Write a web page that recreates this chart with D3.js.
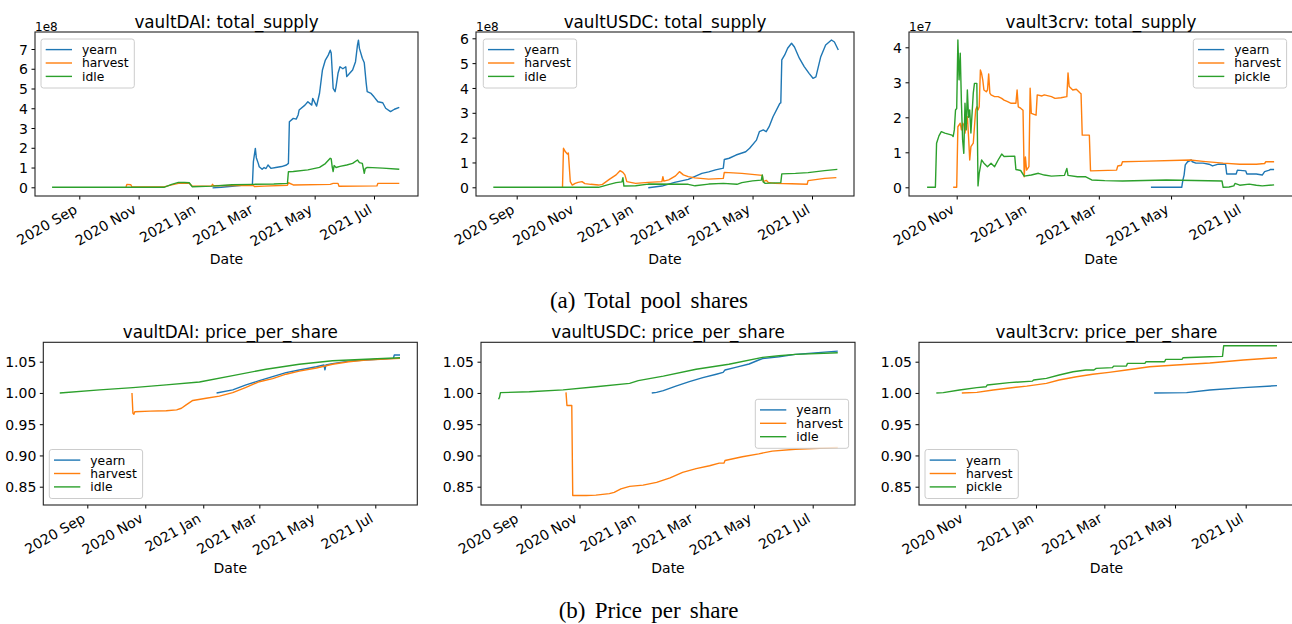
<!DOCTYPE html>
<html><head><meta charset="utf-8">
<script src="https://cdn.jsdelivr.net/npm/d3@7"></script>
<style>
body{margin:0;background:#fff}
svg{display:block}
text{font-family:"DejaVu Sans",sans-serif;fill:#000}
</style>
</head><body>
<svg id="c" width="1292" height="624"></svg>
<script>
// ---------------- DATA ----------------
// total_supply values are in units of the axis offset (1e8 / 1e7)
const daiSupplyYearn = [["2021-01-16",-0.03],["2021-01-25",0.0],["2021-02-05",0.05],["2021-02-15",0.1],["2021-02-26",0.15],["2021-02-27",1.3],["2021-03-01",1.97],["2021-03-02",1.5],["2021-03-04",1.21],["2021-03-05",1.04],["2021-03-08",0.91],["2021-03-10",1.0],["2021-03-12",0.95],["2021-03-14",1.13],["2021-03-17",0.96],["2021-03-22",1.0],["2021-03-28",1.05],["2021-04-02",1.13],["2021-04-04",1.21],["2021-04-05",3.32],["2021-04-09",3.49],["2021-04-12",3.45],["2021-04-14",3.66],["2021-04-15",3.91],["2021-04-21",4.16],["2021-04-24",4.33],["2021-04-28",4.16],["2021-04-29",4.5],["2021-05-03",4.11],["2021-05-04",4.33],["2021-05-06",4.76],["2021-05-09",5.94],["2021-05-12",6.44],["2021-05-15",6.69],["2021-05-17",6.94],["2021-05-18",6.8],["2021-05-20",5.01],["2021-05-22",4.84],["2021-05-23",5.1],["2021-05-25",5.77],["2021-05-27",6.1],["2021-05-30",6.0],["2021-06-02",6.1],["2021-06-03",5.6],["2021-06-06",5.77],["2021-06-09",5.94],["2021-06-12",6.36],["2021-06-14",7.2],["2021-06-15",7.45],["2021-06-16",7.03],["2021-06-19",6.53],["2021-06-21",6.3],["2021-06-23",5.26],["2021-06-24",4.84],["2021-06-28",4.75],["2021-07-01",4.58],["2021-07-05",4.33],["2021-07-10",4.28],["2021-07-13",4.0],["2021-07-18",3.83],["2021-07-22",3.95],["2021-07-27",4.05]];
const daiSupplyHarvest = [["2020-10-19",0.02],["2020-10-20",0.15],["2020-10-24",0.13],["2020-10-25",0.03],["2020-11-27",0.02],["2020-12-05",0.12],["2020-12-12",0.2],["2020-12-23",0.2],["2020-12-26",0.06],["2021-01-15",0.07],["2021-01-16",0.15],["2021-01-17",0.08],["2021-02-27",0.1],["2021-02-28",0.04],["2021-03-10",0.06],["2021-04-03",0.1],["2021-04-04",0.23],["2021-04-09",0.12],["2021-05-17",0.15],["2021-05-20",0.2],["2021-05-25",0.2],["2021-05-26",0.05],["2021-07-04",0.07],["2021-07-05",0.2],["2021-07-27",0.2]];
const daiSupplyIdle = [["2020-08-04",0],["2020-11-27",0.0],["2020-12-05",0.15],["2020-12-12",0.25],["2020-12-18",0.24],["2020-12-23",0.23],["2020-12-26",0.03],["2021-01-16",0.06],["2021-02-05",0.13],["2021-02-27",0.15],["2021-03-20",0.17],["2021-04-03",0.2],["2021-04-04",0.79],["2021-04-09",0.8],["2021-04-24",0.88],["2021-05-06",1.01],["2021-05-12",1.2],["2021-05-17",1.47],["2021-05-18",1.44],["2021-05-19",1.04],["2021-05-20",0.8],["2021-05-21",1.1],["2021-05-23",1.0],["2021-05-27",1.06],["2021-06-03",1.13],["2021-06-09",1.21],["2021-06-14",1.38],["2021-06-16",1.25],["2021-06-19",1.21],["2021-06-21",0.71],["2021-06-22",0.95],["2021-06-24",1.01],["2021-07-10",0.97],["2021-07-27",0.91]];

const usdcSupplyYearn = [["2021-01-14",-0.02],["2021-01-28",0.05],["2021-02-10",0.2],["2021-02-24",0.32],["2021-03-10",0.56],["2021-03-17",0.62],["2021-03-24",0.7],["2021-03-31",0.76],["2021-04-01",0.77],["2021-04-02",1.12],["2021-04-07",1.17],["2021-04-14",1.3],["2021-04-24",1.43],["2021-04-28",1.57],["2021-05-05",1.9],["2021-05-08",2.24],["2021-05-12",2.31],["2021-05-15",2.24],["2021-05-18",2.44],["2021-05-22",2.84],["2021-05-29",3.38],["2021-05-30",3.4],["2021-05-31",5.13],["2021-06-03",5.33],["2021-06-06",5.6],["2021-06-10",5.8],["2021-06-13",5.65],["2021-06-18",5.2],["2021-06-23",4.86],["2021-06-28",4.59],["2021-07-02",4.39],["2021-07-05",4.45],["2021-07-10",5.26],["2021-07-15",5.73],["2021-07-21",5.93],["2021-07-24",5.85],["2021-07-28",5.53]];
const usdcSupplyHarvest = [["2020-10-18",0],["2020-10-19",1.57],["2020-10-21",1.43],["2020-10-23",1.34],["2020-10-24",1.38],["2020-10-26",0.23],["2020-10-28",0.09],["2020-10-31",0.16],["2020-11-03",0.2],["2020-11-07",0.23],["2020-11-10",0.15],["2020-11-16",0.12],["2020-11-24",0.09],["2020-11-28",0.12],["2020-12-05",0.32],["2020-12-12",0.5],["2020-12-16",0.67],["2020-12-19",0.6],["2020-12-21",0.5],["2020-12-23",0.23],["2021-01-01",0.16],["2021-01-14",0.2],["2021-01-28",0.23],["2021-01-29",0.43],["2021-01-30",0.25],["2021-02-04",0.3],["2021-02-11",0.46],["2021-02-15",0.63],["2021-02-19",0.5],["2021-02-24",0.43],["2021-03-03",0.38],["2021-03-17",0.33],["2021-04-01",0.36],["2021-04-02",0.6],["2021-04-20",0.56],["2021-05-11",0.48],["2021-05-12",0.23],["2021-05-15",0.28],["2021-05-17",0.2],["2021-05-24",0.16],["2021-06-10",0.14],["2021-06-26",0.12],["2021-06-27",0.27],["2021-07-14",0.36],["2021-07-26",0.39]];
const usdcSupplyIdle = [["2020-08-08",0],["2020-11-24",0],["2020-12-05",0.12],["2020-12-12",0.19],["2020-12-18",0.22],["2020-12-19",0.39],["2020-12-20",0.05],["2021-01-01",0.06],["2021-01-14",0.13],["2021-02-24",0.12],["2021-03-03",0.06],["2021-03-17",0.13],["2021-04-01",0.16],["2021-04-15",0.12],["2021-04-20",0.19],["2021-05-01",0.26],["2021-05-10",0.29],["2021-05-11",0.5],["2021-05-12",0.22],["2021-05-14",0.16],["2021-05-30",0.19],["2021-05-31",0.54],["2021-06-14",0.56],["2021-06-27",0.59],["2021-07-14",0.67],["2021-07-27",0.72]];

const crvSupplyYearn = [["2021-04-14",0],["2021-05-10",0],["2021-05-11",0.21],["2021-05-12",0.35],["2021-05-13",0.64],["2021-05-15",0.73],["2021-05-18",0.78],["2021-05-19",0.73],["2021-05-22",0.69],["2021-05-28",0.69],["2021-06-02",0.66],["2021-06-05",0.61],["2021-06-10",0.66],["2021-06-16",0.66],["2021-06-17",0.38],["2021-06-25",0.38],["2021-06-26",0.49],["2021-07-03",0.47],["2021-07-04",0.38],["2021-07-12",0.38],["2021-07-17",0.35],["2021-07-19",0.45],["2021-07-23",0.49],["2021-07-24",0.51],["2021-07-27",0.51]];
const crvSupplyHarvest = [["2020-10-29",0],["2020-11-01",0],["2020-11-02",1.73],["2020-11-04",1.83],["2020-11-05",1.64],["2020-11-06",1.83],["2020-11-07",1.78],["2020-11-08",1.55],["2020-11-10",2.02],["2020-11-11",1.45],["2020-11-12",0.78],["2020-11-13",1.16],["2020-11-15",1.26],["2020-11-16",1.73],["2020-11-17",2.21],["2020-11-18",2.3],["2020-11-19",2.21],["2020-11-20",2.3],["2020-11-21",3.35],["2020-11-22",3.25],["2020-11-23",3.07],["2020-11-24",2.78],["2020-11-26",2.73],["2020-11-27",2.78],["2020-11-28",3.24],["2020-11-29",2.69],["2020-11-30",2.64],["2020-12-03",2.59],["2020-12-06",2.59],["2020-12-09",2.54],["2020-12-11",2.49],["2020-12-14",2.45],["2020-12-17",2.4],["2020-12-21",2.4],["2020-12-22",2.78],["2020-12-23",2.3],["2020-12-25",2.26],["2020-12-27",2.2],["2020-12-28",0.3],["2020-12-29",0.87],["2020-12-30",0.49],["2021-01-01",0.59],["2021-01-02",2.83],["2021-01-03",2.11],["2021-01-07",2.06],["2021-01-08",2.64],["2021-01-12",2.61],["2021-01-14",2.64],["2021-01-20",2.59],["2021-01-23",2.54],["2021-01-28",2.56],["2021-02-02",2.59],["2021-02-03",3.27],["2021-02-04",2.88],["2021-02-07",2.78],["2021-02-10",2.8],["2021-02-13",2.7],["2021-02-14",2.67],["2021-02-15",1.49],["2021-02-21",1.49],["2021-02-22",0.47],["2021-03-16",0.49],["2021-03-17",0.61],["2021-03-20",0.63],["2021-03-21",0.73],["2021-04-04",0.74],["2021-05-17",0.78],["2021-05-28",0.74],["2021-06-14",0.69],["2021-06-28",0.66],["2021-07-12",0.66],["2021-07-19",0.68],["2021-07-20",0.73],["2021-07-27",0.73]];
const crvSupplyPickle = [["2020-10-07",0],["2020-10-14",0],["2020-10-15",1.26],["2020-10-17",1.47],["2020-10-19",1.59],["2020-10-22",1.55],["2020-10-25",1.52],["2020-10-28",1.49],["2020-10-29",1.45],["2020-10-30",1.64],["2020-10-31",2.21],["2020-11-01",2.25],["2020-11-02",4.21],["2020-11-03",3.07],["2020-11-04",3.83],["2020-11-05",2.4],["2020-11-06",1.35],["2020-11-07",0.97],["2020-11-08",2.4],["2020-11-09",1.64],["2020-11-10",2.78],["2020-11-11",2.0],["2020-11-12",2.21],["2020-11-13",1.55],["2020-11-15",2.69],["2020-11-16",2.97],["2020-11-18",2.97],["2020-11-19",0.04],["2020-11-20",0.4],["2020-11-22",0.78],["2020-11-24",0.69],["2020-11-27",0.59],["2020-11-30",0.69],["2020-12-03",0.59],["2020-12-06",0.78],["2020-12-09",0.95],["2020-12-11",0.88],["2020-12-20",0.89],["2020-12-21",0.51],["2020-12-25",0.48],["2020-12-28",0.32],["2021-01-03",0.35],["2021-01-09",0.4],["2021-01-14",0.35],["2021-01-20",0.32],["2021-01-31",0.34],["2021-02-02",0.54],["2021-02-03",0.34],["2021-02-11",0.3],["2021-02-18",0.3],["2021-02-23",0.21],["2021-03-06",0.19],["2021-03-21",0.18],["2021-04-27",0.21],["2021-06-13",0.18],["2021-06-14",0.0],["2021-06-19",0.01],["2021-06-23",0.04],["2021-06-24",0.11],["2021-06-28",0.06],["2021-07-06",0.09],["2021-07-12",0.06],["2021-07-17",0.04],["2021-07-27",0.07]];

const daiPriceYearn = [["2021-01-15",1.0],["2021-02-01",1.005],["2021-02-15",1.0128],["2021-03-01",1.0197],["2021-03-15",1.026],["2021-03-29",1.0325],["2021-04-12",1.0367],["2021-04-30",1.042],["2021-05-08",1.0447],["2021-05-09",1.037],["2021-05-10",1.0447],["2021-05-17",1.047],["2021-06-03",1.051],["2021-06-21",1.0527],["2021-07-20",1.0553],["2021-07-21",1.0607],["2021-07-27",1.0607]];
const daiPriceHarvest = [["2020-10-18",1.0],["2020-10-19",0.9675],["2020-10-20",0.966],["2020-10-21",0.970],["2020-11-06",0.971],["2020-11-23",0.9715],["2020-12-04",0.973],["2020-12-09",0.9755],["2020-12-14",0.981],["2020-12-21",0.988],["2021-01-04",0.9915],["2021-01-18",0.995],["2021-02-01",1.0005],["2021-02-15",1.009],["2021-03-01",1.018],["2021-03-15",1.023],["2021-03-29",1.030],["2021-04-12",1.035],["2021-04-30",1.040],["2021-05-17",1.046],["2021-06-03",1.050],["2021-06-21",1.0527],["2021-07-27",1.0553]];
const daiPriceIdle = [["2020-08-03",1.0],["2020-09-14",1.005],["2020-10-19",1.0085],["2020-11-23",1.013],["2020-12-28",1.0176],["2021-02-01",1.0277],["2021-03-08",1.038],["2021-04-12",1.046],["2021-05-17",1.0516],["2021-06-21",1.054],["2021-07-27",1.0564]];

const usdcPriceYearn = [["2021-01-15",1.0],["2021-01-20",1.001],["2021-01-27",1.0037],["2021-02-09",1.011],["2021-02-23",1.018],["2021-03-09",1.0245],["2021-03-23",1.030],["2021-03-30",1.033],["2021-04-01",1.0367],["2021-04-12",1.041],["2021-04-26",1.0463],["2021-05-06",1.0527],["2021-05-10",1.055],["2021-05-27",1.058],["2021-06-13",1.0617],["2021-07-27",1.067]];
const usdcPriceHarvest = [["2020-10-18",1.001],["2020-10-19",0.98],["2020-10-24",0.98],["2020-10-25",0.836],["2020-11-08",0.836],["2020-11-18",0.8365],["2020-12-02",0.839],["2020-12-07",0.841],["2020-12-14",0.8465],["2020-12-23",0.8505],["2021-01-06",0.8526],["2021-01-20",0.857],["2021-02-03",0.864],["2021-02-16",0.873],["2021-03-02",0.879],["2021-03-16",0.8835],["2021-03-26",0.8877],["2021-03-31",0.888],["2021-04-01",0.892],["2021-04-19",0.898],["2021-05-06",0.9026],["2021-05-20",0.907],["2021-06-13",0.910],["2021-07-27",0.9128]];
const usdcPriceIdle = [["2020-08-09",0.990],["2020-08-10",0.993],["2020-08-11",1.0005],["2020-09-10",1.002],["2020-10-15",1.005],["2020-11-18",1.010],["2020-12-23",1.0154],["2021-01-01",1.0197],["2021-01-27",1.027],["2021-03-02",1.038],["2021-04-05",1.046],["2021-05-10",1.057],["2021-05-27",1.0596],["2021-06-13",1.0617],["2021-07-27",1.0644]];

const crvPriceYearn = [["2021-04-13",1.0],["2021-05-11",1.0005],["2021-05-31",1.0048],["2021-06-29",1.0085],["2021-07-28",1.0117]];
const crvPriceHarvest = [["2020-10-29",1.0],["2020-11-11",1.001],["2020-11-25",1.0048],["2020-12-24",1.011],["2021-01-10",1.0154],["2021-01-21",1.0207],["2021-02-05",1.026],["2021-02-19",1.030],["2021-03-05",1.033],["2021-03-20",1.0367],["2021-04-09",1.042],["2021-05-02",1.0447],["2021-05-31",1.048],["2021-06-29",1.0527],["2021-07-28",1.0564]];
const crvPricePickle = [["2020-10-07",1.0],["2020-10-13",1.0005],["2020-10-27",1.0048],["2020-11-11",1.0085],["2020-11-19",1.01],["2020-11-20",1.0128],["2020-12-09",1.0165],["2020-12-29",1.019],["2020-12-30",1.0207],["2021-01-10",1.0234],["2021-01-21",1.0287],["2021-02-02",1.034],["2021-02-13",1.0367],["2021-02-20",1.0367],["2021-02-22",1.0394],["2021-03-08",1.0405],["2021-03-09",1.043],["2021-03-20",1.043],["2021-03-21",1.0473],["2021-04-05",1.0473],["2021-04-06",1.05],["2021-04-22",1.05],["2021-04-23",1.0537],["2021-05-07",1.0537],["2021-05-08",1.0564],["2021-05-31",1.058],["2021-06-11",1.0585],["2021-06-12",1.0755],["2021-07-28",1.0755]];

const ticksSixMonths = ["2020-09-01","2020-11-01","2021-01-01","2021-03-01","2021-05-01","2021-07-01"];
const ticksFiveMonths = ["2020-11-01","2021-01-01","2021-03-01","2021-05-01","2021-07-01"];
const supplyTicksDai = [0,1,2,3,4,5,6,7];
const supplyTicksUsdc = [0,1,2,3,4,5,6];
const supplyTicks3crv = [0,1,2,3,4];
const priceTicks = [0.85,0.90,0.95,1.00,1.05];
const namesIdle = ["yearn","harvest","idle"];
const namesPickle = ["yearn","harvest","pickle"];
const captions = ["(a) Total pool shares","(b) Price per share"];

// ---------------- LAYOUT ----------------
const parse = d3.utcParse("%Y-%m-%d");
const colors = ["#1f77b4","#ff7f0e","#2ca02c"];
const svg = d3.select("#c");

const panels = [
  {title:"vaultDAI: total_supply", box:[35,32,418,196], xRef:[["2020-09-01",79.3],["2021-07-01",374]], yRef:[[0,187.3],[7,49]],
   xTicks:ticksSixMonths, yTicks:supplyTicksDai, yFmt:d3.format("d"), offset:"1e8",
   series:[daiSupplyYearn,daiSupplyHarvest,daiSupplyIdle], names:namesIdle, legend:[41,39]},
  {title:"vaultUSDC: total_supply", box:[476,32,854,196], xRef:[["2020-09-01",516.7],["2021-07-01",812]], yRef:[[0,187.3],[6,38.3]],
   xTicks:ticksSixMonths, yTicks:supplyTicksUsdc, yFmt:d3.format("d"), offset:"1e8",
   series:[usdcSupplyYearn,usdcSupplyHarvest,usdcSupplyIdle], names:namesIdle, legend:[483.3,39]},
  {title:"vault3crv: total_supply", box:[909,32,1293,196], xRef:[["2020-11-01",956.7],["2021-07-01",1243.3]], yRef:[[0,187.3],[4,47.3]],
   xTicks:ticksFiveMonths, yTicks:supplyTicks3crv, yFmt:d3.format("d"), offset:"1e7",
   series:[crvSupplyYearn,crvSupplyHarvest,crvSupplyPickle], names:namesPickle, legend:[1193.3,39]},
  {title:"vaultDAI: price_per_share", box:[43.3,342.3,417.3,505], xRef:[["2020-09-01",87.3],["2021-07-01",375.3]], yRef:[[1.05,361.7],[0.85,486.7]],
   xTicks:ticksSixMonths, yTicks:priceTicks, yFmt:d3.format(".2f"), offset:null,
   series:[daiPriceYearn,daiPriceHarvest,daiPriceIdle], names:namesIdle, legend:[49.3,449.5]},
  {title:"vaultUSDC: price_per_share", box:[481,342.3,855,505], xRef:[["2020-09-01",520.7],["2021-07-01",812.7]], yRef:[[1.05,361.7],[0.85,486.7]],
   xTicks:ticksSixMonths, yTicks:priceTicks, yFmt:d3.format(".2f"), offset:null,
   series:[usdcPriceYearn,usdcPriceHarvest,usdcPriceIdle], names:namesIdle, legend:[755.3,399.3]},
  {title:"vault3crv: price_per_share", box:[919,342.3,1294,505], xRef:[["2020-11-01",965.3],["2021-07-01",1245.7]], yRef:[[1.05,361.7],[0.85,486.7]],
   xTicks:ticksFiveMonths, yTicks:priceTicks, yFmt:d3.format(".2f"), offset:null,
   series:[crvPriceYearn,crvPriceHarvest,crvPricePickle], names:namesPickle, legend:[925,449.5]}
];

const monthFmt = d3.utcFormat("%Y %b");

panels.forEach((p, pi) => {
  const [L,T,R,B] = p.box;
  const tmpX = d3.scaleUtc().domain(p.xRef.map(d=>parse(d[0]))).range(p.xRef.map(d=>d[1]));
  const x = d3.scaleUtc().domain([tmpX.invert(L), tmpX.invert(R)]).range([L,R]);
  const tmpY = d3.scaleLinear().domain(p.yRef.map(d=>d[0])).range(p.yRef.map(d=>d[1]));
  const y = d3.scaleLinear().domain([tmpY.invert(B), tmpY.invert(T)]).range([B,T]);

  const g = svg.append("g");
  const clipId = "clip"+pi;
  svg.append("clipPath").attr("id",clipId).append("rect")
    .attr("x",L).attr("y",T).attr("width",R-L).attr("height",B-T);

  // lines
  const line = d3.line().x(d=>x(parse(d[0]))).y(d=>y(d[1]));
  const lg = g.append("g").attr("clip-path",`url(#${clipId})`);
  p.series.forEach((s,i) => {
    lg.append("path").attr("d", line(s)).attr("fill","none")
      .attr("stroke", colors[i]).attr("stroke-width",1.4).attr("stroke-linejoin","round");
  });

  // x axis
  const xAxis = d3.axisBottom(x).tickValues(p.xTicks.map(parse)).tickSize(3.5).tickFormat(monthFmt);
  const xg = g.append("g").attr("transform",`translate(0,${B})`).call(xAxis);
  xg.select(".domain").remove();
  xg.selectAll(".tick line").attr("stroke","#000").attr("stroke-width",1);
  xg.selectAll(".tick text")
    .attr("font-size",14).attr("fill","#000")
    .attr("text-anchor","end").attr("y",0).attr("dy",0)
    .attr("transform","translate(-1.7,16.2) rotate(-30)");

  // y axis
  const yAxis = d3.axisLeft(y).tickValues(p.yTicks).tickSize(3.5).tickPadding(3.5).tickFormat(p.yFmt);
  const yg = g.append("g").attr("transform",`translate(${L},0)`).call(yAxis);
  yg.select(".domain").remove();
  yg.selectAll(".tick line").attr("stroke","#000").attr("stroke-width",1);
  yg.selectAll(".tick text").attr("font-size",14).attr("fill","#000").attr("dy","0.36em");

  // frame
  g.append("rect").attr("x",L).attr("y",T).attr("width",R-L).attr("height",B-T)
    .attr("fill","none").attr("stroke","#222").attr("stroke-width",1.1);

  // title
  g.append("text").attr("x",(L+R)/2).attr("y",T-4).attr("text-anchor","middle")
    .attr("font-size",16.8).text(p.title);
  // x label
  g.append("text").attr("x",(L+R)/2).attr("y",B+68)
    .attr("text-anchor","middle").attr("font-size",14).text("Date");
  // offset text
  if (p.offset) {
    g.append("text").attr("x",L).attr("y",T-1.5).attr("font-size",12).text(p.offset);
  }

  // legend
  const [lx,ly] = p.legend;
  const leg = g.append("g");
  leg.append("rect").attr("x",lx).attr("y",ly).attr("width",93.3).attr("height",49).attr("rx",2.5)
    .attr("fill","#fff").attr("fill-opacity",0.8).attr("stroke","#cccccc").attr("stroke-width",1);
  p.names.forEach((n,i) => {
    const ry = ly + 10.6 + 13.4*i;
    leg.append("line").attr("x1",lx+4.7).attr("x2",lx+31).attr("y1",ry).attr("y2",ry)
      .attr("stroke",colors[i]).attr("stroke-width",1.4);
    leg.append("text").attr("x",lx+41).attr("y",ry+4.4).attr("font-size",12.3).text(n);
  });
});

// captions
svg.append("text").attr("x",649).attr("y",307.5).attr("text-anchor","middle")
  .style("font-family","'Liberation Serif', serif")
  .attr("font-size",23).attr("word-spacing",3.5).text(captions[0]);
svg.append("text").attr("x",648.5).attr("y",617.5).attr("text-anchor","middle")
  .style("font-family","'Liberation Serif', serif")
  .attr("font-size",23).attr("word-spacing",3.5).text(captions[1]);
</script>
</body></html>
